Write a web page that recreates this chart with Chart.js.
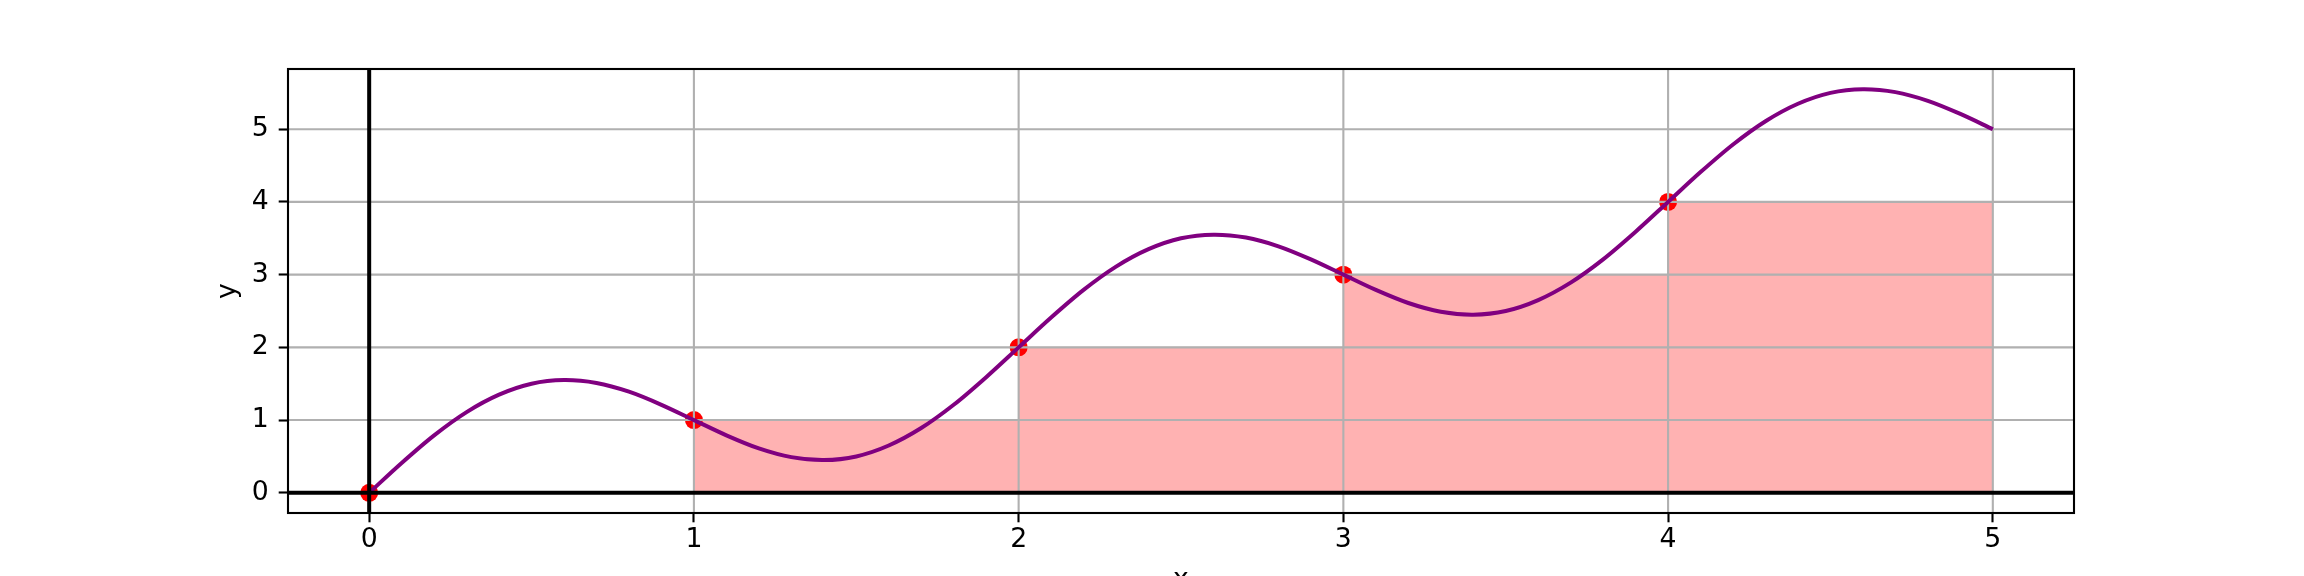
<!DOCTYPE html>
<html>
<head>
<meta charset="utf-8">
<script src="https://cdn.jsdelivr.net/npm/chart.js@4/dist/chart.umd.min.js"></script>
<style>
  html, body { margin: 0; padding: 0; background: #fff; overflow: hidden; }
  canvas { display: block; }
</style>
</head>
<body>
<canvas id="c" width="2304" height="576"></canvas>
<script>
// curve, every 0.1 in x
const curveX = [0,0.1,0.2,0.3,0.4,0.5,0.6,0.7,0.8,0.9,1,1.1,1.2,1.3,1.4,1.5,1.6,1.7,1.8,1.9,2,
  2.1,2.2,2.3,2.4,2.5,2.6,2.7,2.8,2.9,3,3.1,3.2,3.3,3.4,3.5,3.6,3.7,3.8,3.9,4,
  4.1,4.2,4.3,4.4,4.5,4.6,4.7,4.8,4.9,5];
const curveY = [0,0.41,0.79,1.11,1.35,1.50,1.55,1.51,1.39,1.21,1.00,0.79,0.61,0.49,0.45,0.50,0.65,0.89,1.21,1.59,2.00,
  2.41,2.79,3.11,3.35,3.50,3.55,3.51,3.39,3.21,3.00,2.79,2.61,2.49,2.45,2.50,2.65,2.89,3.21,3.59,4.00,
  4.41,4.79,5.11,5.35,5.50,5.55,5.51,5.39,5.21,5.00];

// step (left-edge) heights
const stepX = [1, 2, 3, 4, 5];
const stepY = [1, 2, 3, 4, 4];

// sample points
const pointX = [0, 1, 2, 3, 4];
const pointY = [0, 1, 2, 3, 4];

const xTicks = [0, 1, 2, 3, 4, 5];
const yTicks = [0, 1, 2, 3, 4, 5];

const FONT = 'DejaVu Sans';
const FS = 26.7;
const GRID = '#b0b0b0';

const zip = (xs, ys) => xs.map((x, i) => ({ x: x, y: ys[i] }));

// grid goes above the fill and dots but below the curve
const gridPlugin = {
  id: 'gridAbove',
  beforeDatasetDraw(chart, args) {
    if (args.index !== 0) return;
    const { ctx, chartArea: a, scales } = chart;
    ctx.save();
    ctx.strokeStyle = GRID;
    ctx.lineWidth = 2.1;
    ctx.beginPath();
    xTicks.forEach(v => {
      const px = scales.x.getPixelForValue(v);
      ctx.moveTo(px, a.top); ctx.lineTo(px, a.bottom);
    });
    yTicks.forEach(v => {
      const py = scales.y.getPixelForValue(v);
      ctx.moveTo(a.left, py); ctx.lineTo(a.right, py);
    });
    ctx.stroke();
    ctx.restore();
  }
};

const overlayPlugin = {
  id: 'overlay',
  afterDatasetsDraw(chart) {
    const { ctx, chartArea: a, scales } = chart;
    ctx.save();
    // axhline / axvline at 0
    ctx.strokeStyle = '#000';
    ctx.lineWidth = 4;
    ctx.beginPath();
    const y0 = scales.y.getPixelForValue(0);
    const x0 = scales.x.getPixelForValue(0);
    ctx.moveTo(a.left, y0); ctx.lineTo(a.right, y0);
    ctx.moveTo(x0, a.top); ctx.lineTo(x0, a.bottom);
    ctx.stroke();
    // frame
    ctx.lineWidth = 2.1;
    ctx.strokeRect(a.left, a.top, a.right - a.left, a.bottom - a.top);
    // axis titles
    ctx.fillStyle = '#000';
    ctx.font = FS + 'px "' + FONT + '"';
    ctx.textAlign = 'center';
    ctx.textBaseline = 'alphabetic';
    ctx.fillText('x', (a.left + a.right) / 2, a.bottom + 74);
    ctx.translate(a.left - 60, (a.top + a.bottom) / 2);
    ctx.rotate(-Math.PI / 2);
    ctx.textBaseline = 'middle';
    ctx.fillText('y', 0, 0);
    ctx.restore();
  }
};

new Chart(document.getElementById('c'), {
  type: 'line',
  data: {
    datasets: [
      { label: 'curve', data: zip(curveX, curveY), borderColor: '#800080', borderWidth: 4,
        pointRadius: 0, tension: 0.3, fill: false },
      { label: 'points', type: 'scatter', data: zip(pointX, pointY), backgroundColor: '#ff0000',
        borderWidth: 0, pointRadius: 9, showLine: false },
      { label: 'steps', data: zip(stepX, stepY), stepped: 'before', fill: 'origin',
        backgroundColor: 'rgba(255,0,0,0.3)', borderColor: 'rgba(255,0,0,0.35)', borderWidth: 1,
        pointRadius: 0 },
    ],
  },
  options: {
    responsive: false, animation: false, devicePixelRatio: 1,
    layout: { padding: { top: 69, right: 230, left: 0, bottom: 0 } },
    plugins: { legend: { display: false }, tooltip: { enabled: false } },
    scales: {
      x: {
        type: 'linear', min: -0.25, max: 5.25,
        afterBuildTicks: s => { s.ticks = xTicks.map(v => ({ value: v })); },
        afterFit: s => { s.height = 63; },
        grid: { drawOnChartArea: false, tickColor: '#000', tickLength: 9.3, tickWidth: 2.1 },
        border: { display: false },
        ticks: { color: '#000', font: { family: FONT, size: FS }, padding: 2, maxRotation: 0,
                 callback: v => String(v) },
      },
      y: {
        type: 'linear', min: -0.278, max: 5.828,
        afterBuildTicks: s => { s.ticks = yTicks.map(v => ({ value: v })); },
        afterFit: s => { s.width = 288; },
        grid: { drawOnChartArea: false, tickColor: '#000', tickLength: 9.3, tickWidth: 2.1 },
        border: { display: false },
        ticks: { color: '#000', font: { family: FONT, size: FS }, padding: 10,
                 callback: v => String(v) },
      },
    },
  },
  plugins: [gridPlugin, overlayPlugin],
});
</script>
</body>
</html>
